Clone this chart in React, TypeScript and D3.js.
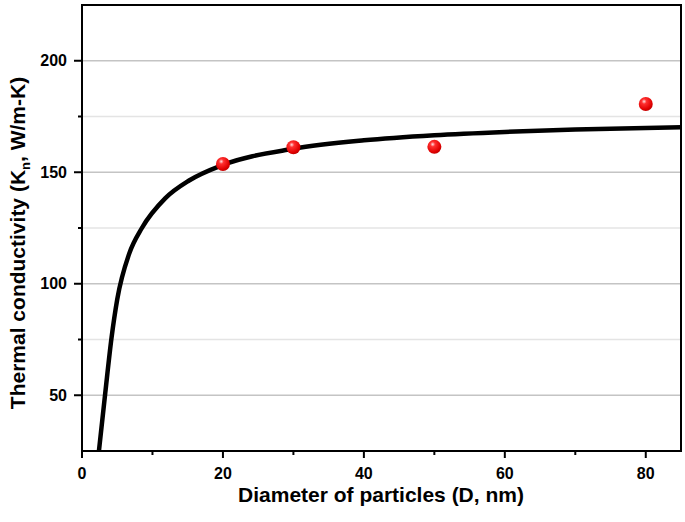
import React from "react";
import * as d3 from "d3";

// fitted curve
const curveD = [2.4, 3.3, 4.2, 5.0, 6.7, 8.5, 11.8, 15.2, 20, 30, 40, 50, 60, 70, 85];
const curveK = [25, 51, 76, 93, 113.5, 125, 138.3, 146.3, 153.3, 160.5, 164.3, 166.6, 168.1, 169.2, 170.2];

// measured points
const pointD = [20, 30, 50, 80];
const pointK = [153.7, 161.2, 161.4, 180.6];

const xTicks = [0, 20, 40, 60, 80];
const xMinor = [10, 30, 50, 70];
const yTicks = [50, 100, 150, 200];
const yMinor = [75, 125, 175];

export default function App() {
  const width = 685;
  const height = 522;
  const left = 82;
  const right = 681;
  const top = 5;
  const bottom = 451;

  const x = d3.scaleLinear().domain([0, 85]).range([left, right]);
  const y = d3.scaleLinear().domain([25, 225]).range([bottom, top]);

  const curve = curveD.map((d, i) => [d, curveK[i]] as [number, number]);
  const line = d3
    .line<[number, number]>()
    .x(d => x(d[0]))
    .y(d => y(d[1]))
    .curve(d3.curveMonotoneX);

  const font = "'Liberation Sans', Arial, sans-serif";

  return (
    <svg
      width={width}
      height={height}
      style={{ position: "absolute", left: 0, top: 0, background: "#fff" }}
    >
      <defs>
        <clipPath id="plot">
          <rect x={left} y={top} width={right - left} height={bottom - top} />
        </clipPath>
        <radialGradient id="ball" cx="0.38" cy="0.32" r="0.7">
          <stop offset="0" stopColor="#ffe0e0" />
          <stop offset="0.25" stopColor="#ff3030" />
          <stop offset="0.8" stopColor="#e00000" />
          <stop offset="1" stopColor="#c00000" />
        </radialGradient>
      </defs>

      {/* grid */}
      {yMinor.map(t => (
        <line key={`gm${t}`} x1={left} x2={right} y1={y(t)} y2={y(t)} stroke="#e4e4e4" strokeWidth={1.5} />
      ))}
      {yTicks.map(t => (
        <line key={`g${t}`} x1={left} x2={right} y1={y(t)} y2={y(t)} stroke="#c4c4c4" strokeWidth={1.5} />
      ))}

      <path
        d={line(curve) || ""}
        fill="none"
        stroke="#000"
        strokeWidth={4.5}
        clipPath="url(#plot)"
      />

      {pointD.map((d, i) => (
        <circle key={`p${i}`} cx={x(d)} cy={y(pointK[i])} r={7} fill="url(#ball)" />
      ))}

      <rect
        x={left}
        y={top}
        width={right - left}
        height={bottom - top}
        fill="none"
        stroke="#000"
        strokeWidth={2}
      />

      {/* x axis ticks */}
      {xTicks.map(t => (
        <g key={`x${t}`}>
          <line x1={x(t)} x2={x(t)} y1={bottom} y2={bottom + 7} stroke="#000" strokeWidth={2} />
          <text
            x={x(t)}
            y={479}
            textAnchor="middle"
            fontFamily={font}
            fontWeight="bold"
            fontSize={16}
          >
            {t}
          </text>
        </g>
      ))}
      {xMinor.map(t => (
        <line key={`xm${t}`} x1={x(t)} x2={x(t)} y1={bottom} y2={bottom + 4} stroke="#000" strokeWidth={2} />
      ))}

      {/* y axis ticks */}
      {yTicks.map(t => (
        <g key={`y${t}`}>
          <line x1={left - 8} x2={left} y1={y(t)} y2={y(t)} stroke="#000" strokeWidth={2} />
          <text
            x={left - 15}
            y={y(t)}
            dy="0.35em"
            textAnchor="end"
            fontFamily={font}
            fontWeight="bold"
            fontSize={16}
          >
            {t}
          </text>
        </g>
      ))}
      {yMinor.map(t => (
        <line key={`ym${t}`} x1={left - 4} x2={left} y1={y(t)} y2={y(t)} stroke="#000" strokeWidth={2} />
      ))}

      <text
        x={381}
        y={502}
        textAnchor="middle"
        fontFamily={font}
        fontWeight="bold"
        fontSize={21}
      >
        Diameter of particles (D, nm)
      </text>

      <text
        transform="translate(25,243) rotate(-90)"
        textAnchor="middle"
        fontFamily={font}
        fontWeight="bold"
        fontSize={21}
      >
        Thermal conductivity (K
        <tspan fontSize={13} dy={5}>n</tspan>
        <tspan dy={-5}>, W/m-K)</tspan>
      </text>
    </svg>
  );
}
